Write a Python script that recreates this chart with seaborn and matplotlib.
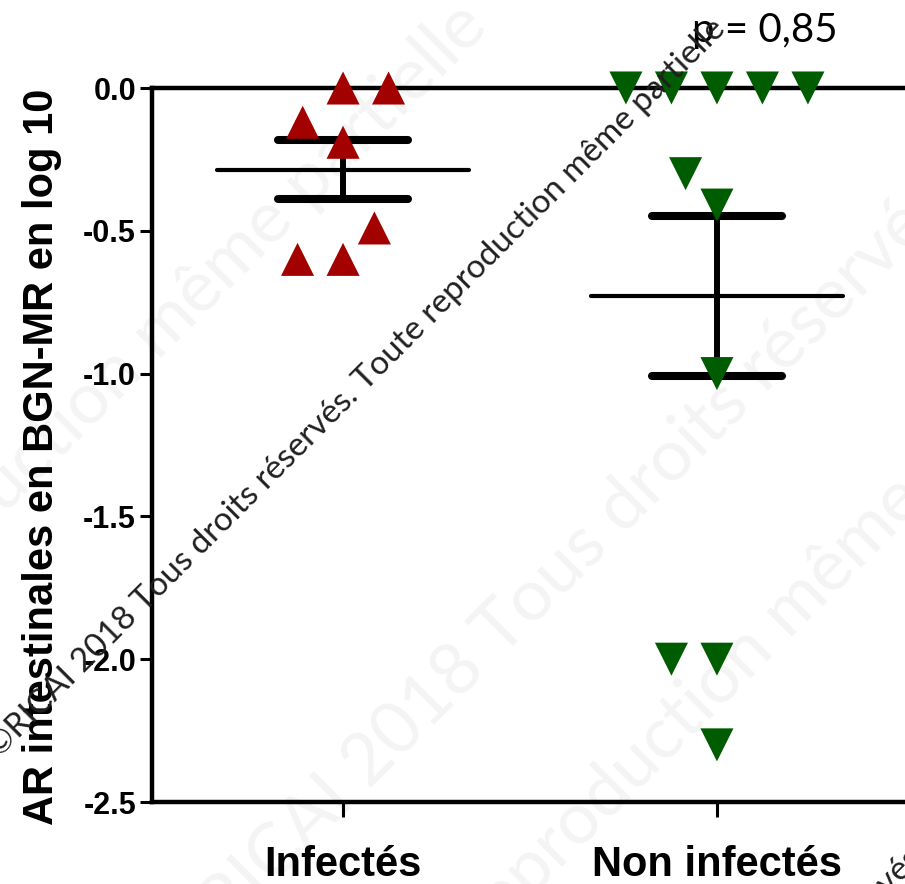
import numpy as np
import pandas as pd
import matplotlib
matplotlib.use("Agg")
import matplotlib.pyplot as plt
import seaborn as sns

# Groups and log10 values per patient
groups = ["Infectés", "Non infectés"]
infectes = [0.0, 0.0, -0.12, -0.19, -0.49, -0.60, -0.60]
non_infectes = [0.0, 0.0, 0.0, 0.0, 0.0, -0.30, -0.41, -1.0, -2.0, -2.0, -2.30]
y_ticks = [0.0, -0.5, -1.0, -1.5, -2.0, -2.5]
y_label = "AR intestinales en BGN-MR en log 10"
p_text = "p = 0,85"
notice = "©RICAI 2018 Tous droits réservés. Toute reproduction même partielle"

df = pd.DataFrame({
    "groupe": [groups[0]] * len(infectes) + [groups[1]] * len(non_infectes),
    "valeur": infectes + non_infectes,
})

sns.set_theme(style="white")
plt.rcParams["font.family"] = ["Liberation Sans", "DejaVu Sans"]

W, H = 905, 884
fig = plt.figure(figsize=(W / 100, H / 100), dpi=100)
ax = fig.add_axes([152 / W, (H - 802) / H, 1 - 152 / W, (802 - 88) / H])

# Large, very pale background notice lines
for (px, py) in [(170, 960), (-470, 1870), (-1101, 1591)]:
    fig.text(px / W, 1 - py / H, notice, fontsize=52, rotation=45,
             rotation_mode="anchor", ha="left", va="center",
             family=["Lato", "DejaVu Sans"], color="#f4f4f4", zorder=-10)

red = "#a30000"
green = "#005c00"
tri = 23.8      # triangle size in points
gap = 7.4       # extra spacing used by the swarm layout (invisible edge)

sns.swarmplot(data=df[df["groupe"] == groups[0]], x="groupe", y="valeur",
              order=groups, marker="^", color=red, size=tri, linewidth=0,
              ax=ax, zorder=5, clip_on=False)
sns.swarmplot(data=df[df["groupe"] == groups[1]], x="groupe", y="valeur",
              order=groups, marker="v", color=green, size=tri, linewidth=0,
              ax=ax, zorder=5, clip_on=False)
for coll in list(ax.collections):
    if len(coll.get_offsets()) == 0:
        coll.remove()
        continue
    coll.set_linewidth(gap)
    coll.set_edgecolor("none")

# Mean and standard error of the mean for each group
for i, vals in enumerate([infectes, non_infectes]):
    v = np.asarray(vals)
    m = v.mean()
    se = v.std(ddof=1) / np.sqrt(len(v))
    ax.hlines(m, i - 0.337, i + 0.337, color="black", lw=3.0,
              capstyle="round", zorder=3)
    ax.hlines([m - se, m + se], i - 0.174, i + 0.174, color="black", lw=5.8,
              capstyle="round", zorder=3)
    ax.vlines(i, m - se, m + se, color="black", lw=4.3, zorder=3)

ax.set_facecolor("none")
ax.set_ylim(-2.5, 0)
ax.set_xlim(-0.511, 1.503)
ax.set_yticks(y_ticks)
ax.set_yticklabels([f"{t:.1f}" for t in y_ticks], fontsize=22, fontweight="bold")
ax.set_xticks(range(len(groups)))
ax.set_xticklabels(groups, fontsize=30, fontweight="bold")
ax.set_xlabel("")
ax.set_ylabel(y_label, fontsize=30, fontweight="bold", color="black")
ax.yaxis.set_label_coords(-0.1195, 0.483)

for side in ["left", "bottom", "top"]:
    ax.spines[side].set_visible(True)
    ax.spines[side].set_color("black")
    ax.spines[side].set_linewidth(3.2)
ax.spines["right"].set_visible(False)
ax.tick_params(axis="y", direction="out", length=8.5, width=2.2, pad=3,
               colors="black", left=True)
ax.tick_params(axis="x", direction="out", length=11, width=2.2, pad=20,
               colors="black", bottom=True)
ax.grid(False)

fig.text(765 / W, 1 - 42 / H, p_text, fontsize=29, ha="center", va="baseline",
         family=["Lato", "DejaVu Sans"], color="black")

# Copyright notice running diagonally across the figure
for (px, py) in [(-8, 752), (561, 1209)]:
    fig.text(px / W, 1 - py / H, notice, fontsize=24, rotation=45,
             rotation_mode="anchor", ha="left", va="center",
             family=["Lato", "DejaVu Sans"], color="#202020", zorder=10)

fig.savefig("out.png", dpi=100)
